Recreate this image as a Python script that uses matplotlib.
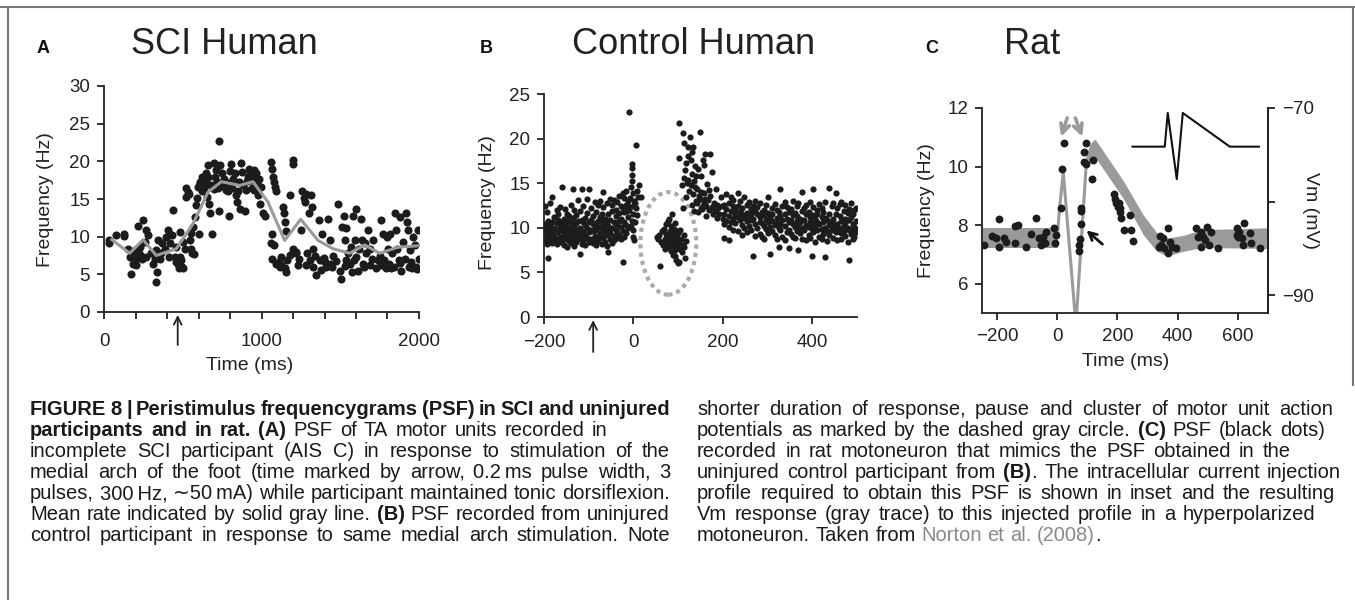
import matplotlib
matplotlib.use('Agg')
import matplotlib.pyplot as plt
from matplotlib.patches import Ellipse
from matplotlib.lines import Line2D

plt.rcParams['font.family'] = ['Liberation Sans', 'DejaVu Sans']
plt.rcParams['axes.unicode_minus'] = True

W, H = 1355, 600
DOT = '#1c1c1c'
GRAY = '#9a9a9a'
TICK_SIZE = 13.5
LABEL_SIZE = 14

# ---------------- panel A : SCI human ----------------
a_t = [32, 32, 78, 125, 125, 152, 169, 167, 180, 195,
       184, 205, 205, 216, 222, 237, 226, 248, 243, 269,
       258, 269, 279, 300, 311, 322, 332, 336, 328, 343,
       353, 364, 370, 385, 396, 406, 413, 421, 434, 438,
       449, 455, 459, 470, 476, 480, 491, 497, 501, 480,
       512, 501,
       518, 523, 533, 540, 544, 554, 561, 569, 575, 590,
       597, 607, 603, 612, 624, 628, 633, 645, 650, 654,
       660, 660, 667, 671, 681, 688, 696, 703, 709, 717,
       724, 730, 730, 734, 745, 751, 760, 766, 772, 787,
       794, 798, 808, 815, 830, 836, 844, 857, 861, 872,
       878, 893, 904, 914, 920, 929, 935, 942, 950, 963,
       967, 978, 971, 988, 999, 1009, 1020,
       640, 700, 740, 790, 820, 850, 880, 910, 945, 955,
       985, 620, 585, 565, 550,
       1062, 1069, 1073, 1077, 1084, 1090, 1069, 1062, 1077, 1069,
       1094, 1115, 1126, 1136, 1140, 1147, 1124, 1147, 1157, 1161,
       1153, 1178, 1199, 1203, 1203, 1217, 1221, 1232, 1253, 1259,
       1267, 1274, 1284, 1289, 1301, 1306, 1316, 1322, 1327, 1337,
       1348, 1365, 1373, 1386, 1380, 1401, 1412, 1422, 1433, 1437,
       1450, 1454, 1486, 1496, 1507, 1513, 1522, 1528, 1539, 1539,
       1549, 1560, 1570, 1577, 1583, 1591, 1598, 1602, 1613, 1619,
       1634, 1640, 1644, 1655, 1666, 1676, 1687, 1691, 1708, 1725,
       1740, 1750, 1761, 1771, 1775, 1788, 1797, 1803, 1809, 1818,
       1831, 1839, 1845, 1852, 1860, 1873, 1881, 1888, 1898, 1909,
       1919, 1924, 1930, 1936, 1945, 1957, 1962, 1972, 1979, 1993,
       1998,
       1110, 1180, 1240, 1280, 1330, 1395, 1470, 1530, 1590, 1650,
       1700, 1760, 1820, 1880, 1950, 1985]
a_f = [9.6, 9.2, 10.2, 10.4, 10.1, 8.3, 5.1, 7.3, 7.8, 8.2,
       6.4, 6.2, 7.1, 11.4, 7.8, 7.5, 8.6, 12.2, 7.1, 10.9,
       9.3, 7.3, 10.2, 7.8, 6.4, 7.1, 4.0, 5.3, 8.2, 9.5,
       7.1, 7.8, 9.2, 8.4, 10.0, 10.9, 7.3, 9.1, 10.2, 13.6,
       7.3, 6.6, 8.6, 6.4, 5.8, 7.3, 6.9, 6.0, 9.3, 10.6,
       8.4, 5.8,
       16.4, 15.3, 15.9, 15.7, 9.5, 8.4, 7.8, 7.7, 12.6, 15.1,
       16.6, 17.3, 10.4, 17.1, 17.9, 17.5, 16.4, 18.4, 17.3, 15.3,
       17.9, 19.5, 14.4, 13.1, 16.8, 10.4, 19.8, 17.9, 18.8, 17.3,
       16.4, 22.7, 13.4, 19.5, 16.8, 18.4, 17.7, 16.6, 16.2, 17.1,
       12.7, 18.7, 19.6, 16.4, 18.4, 15.5, 14.6, 17.3, 13.7, 19.8,
       18.6, 13.4, 16.2, 17.9, 19.0, 18.5, 17.5, 16.5, 18.8, 17.9,
       18.4, 15.5, 17.1, 14.3, 16.6, 13.1, 12.7,
       16.9, 16.3, 17.0, 16.0, 17.6, 16.1, 16.9, 17.4, 17.8, 16.2,
       17.6, 16.0, 14.2, 11.3, 10.5,
       19.9, 19.0, 17.9, 17.3, 16.6, 16.0, 10.4, 9.1, 8.9, 7.1,
       6.4, 6.0, 7.3, 14.0, 13.1, 12.0, 6.2, 5.8, 5.3, 6.9,
       10.8, 15.5, 20.2, 19.6, 8.4, 8.0, 7.8, 6.2, 10.9, 16.0,
       15.1, 14.6, 15.7, 7.8, 13.1, 6.9, 15.5, 14.0, 8.4, 7.4,
       4.9, 12.2, 6.9, 10.4, 5.6, 6.6, 6.0, 12.3, 9.5, 6.4,
       6.0, 7.5, 14.4, 5.5, 4.4, 11.3, 12.7, 9.5, 11.1, 6.9,
       7.8, 6.4, 8.6, 5.3, 12.8, 9.6, 13.7, 7.3, 5.5, 8.4,
       12.4, 9.5, 6.4, 9.1, 7.8, 10.9, 8.4, 6.2, 9.5, 5.8,
       6.9, 7.5, 12.2, 10.4, 6.9, 5.8, 10.0, 8.4, 6.4, 10.4,
       7.8, 6.0, 13.1, 10.9, 8.4, 6.9, 12.6, 5.5, 9.3, 7.1,
       13.1, 12.0, 10.9, 6.0, 8.2, 5.8, 10.0, 8.9, 6.0, 10.9,
       7.1,
       6.6, 7.6, 7.0, 6.3, 6.0, 7.2, 6.8, 6.1, 6.9, 6.0,
       7.1, 6.2, 5.9, 6.5, 6.6, 5.7]
a_mean_t = [50, 163, 248, 332, 459, 565, 660, 745, 861, 946,
            1041, 1147, 1249, 1359, 1454, 1560, 1655, 1750, 1866, 2000]
a_mean_f = [9.6, 7.8, 9.6, 7.5, 8.4, 11.7, 15.9, 17.3, 16.8, 17.3,
            14.6, 9.5, 12.3, 9.5, 8.4, 7.8, 8.9, 7.8, 8.6, 8.8]
a_stim = 468

# ---------------- panel B : control human ----------------
b_pre_t = [-198, -194, -190, -186, -181, -177, -172, -168, -164, -160,
           -156, -152, -148, -144, -140, -136, -132, -128, -124, -119,
           -116, -112, -108, -104, -99, -95, -91, -87, -83, -79,
           -75, -71, -67, -63, -59, -56, -52, -48, -44, -40,
           -36, -32, -28, -24, -20, -16, -12]
b_pre_f = [[8.6, 9.8, 10.4, 12.4], [9.2, 10.1, 11.8, 8.2], [6.6, 9.6, 10.8, 8.4],
           [9.9, 12.8, 8.9, 10.3], [13.5, 9.4, 8.3, 10.6], [10.0, 11.2, 8.5, 9.1],
           [9.7, 12.0, 8.2, 10.5], [10.9, 8.7, 9.5, 11.5], [8.4, 10.2, 12.3, 9.0],
           [14.6, 9.8, 8.6, 10.7], [9.3, 11.0, 8.1, 10.0], [10.4, 8.8, 12.1, 9.6],
           [9.0, 10.8, 7.9, 11.6], [11.3, 9.5, 8.5, 10.1], [8.3, 10.6, 12.6, 9.2],
           [14.4, 9.9, 8.7, 11.1], [10.2, 8.0, 9.4, 12.0], [9.1, 11.4, 8.4, 10.5],
           [13.1, 9.7, 10.8, 8.8], [7.1, 10.0, 11.9, 9.3], [14.4, 9.0, 10.9, 8.2],
           [10.6, 12.5, 8.6, 9.6], [9.2, 11.1, 8.1, 10.3], [13.2, 10.0, 8.9, 11.7],
           [14.3, 9.5, 10.7, 8.4], [10.9, 8.7, 12.2, 9.8], [9.6, 11.3, 8.3, 10.4],
           [12.9, 10.2, 8.8, 9.1], [10.5, 8.1, 11.8, 9.7], [9.0, 12.6, 10.8, 8.5],
           [11.2, 9.4, 13.0, 10.1], [8.2, 10.6, 9.3, 11.6], [14.0, 10.0, 8.9, 12.3],
           [9.5, 11.0, 8.4, 10.4], [10.8, 12.8, 9.2, 8.0], [7.3, 10.2, 11.5, 9.7],
           [13.2, 9.4, 10.9, 8.7], [10.0, 11.9, 8.3, 12.6], [9.1, 10.7, 13.1, 8.6],
           [11.3, 9.8, 12.0, 10.5], [8.9, 10.3, 12.9, 9.5], [13.6, 10.8, 9.2, 11.7],
           [10.1, 12.4, 8.8, 11.0], [6.2, 9.6, 12.2, 13.9], [10.7, 13.3, 9.0, 11.8],
           [12.6, 10.3, 14.1, 9.4], [11.2, 13.0, 10.0, 12.4]]
b_peak_t = [-11, -4, -4, -4, -4, -6, -2, -8, -1, -9, 0, -3, 0, 5, 7, 10, 13, 18,
            3, 6, 9, 4, -1, 2, -14, -6, 1]
b_peak_f = [23.0, 17.2, 16.7, 15.9, 15.2, 14.6, 13.9, 13.3, 12.5, 12.0, 11.5, 10.8,
            9.7, 19.3, 14.1, 13.5, 14.8, 13.4, 12.8, 12.2, 11.4, 10.6, 9.0, 8.6,
            11.9, 10.2, 13.0]
b_pause_t = [52, 55, 58, 60, 62, 64, 66, 68, 70, 70, 72, 73, 75, 76, 77, 78, 80, 80,
             82, 83, 84, 85, 86, 87, 88, 89, 90, 91, 92, 93, 94, 95, 96, 97, 98, 99,
             100, 101, 102, 104, 105, 106, 108, 110, 112, 114, 116, 118,
             78, 84, 86, 90, 92, 95, 88, 82, 98, 94]
b_pause_f = [9.0, 8.7, 9.2, 5.7, 8.4, 9.6, 8.1, 9.9, 8.8, 7.6, 10.4, 9.3, 8.5, 7.9,
             10.8, 9.0, 8.3, 11.0, 9.6, 7.4, 8.8, 10.2, 11.6, 8.0, 9.2, 7.0, 8.6, 9.9,
             6.8, 8.2, 10.5, 9.0, 6.4, 7.7, 8.9, 6.1, 9.4, 6.2, 8.3, 7.6, 9.8, 8.7,
             7.3, 8.1, 9.2, 7.8, 6.6, 8.5,
             8.6, 9.4, 8.3, 9.3, 8.0, 8.4, 8.9, 8.1, 9.6, 7.5]
b_burst_t = [101, 110, 127, 148, 112, 123, 134, 103, 123, 160, 172, 175, 157, 138,
             118, 128, 131, 114, 120, 108, 135, 142, 125, 150, 146, 152, 160, 155,
             140, 130, 118, 110, 165, 168, 172, 178, 180, 185, 145, 135, 162, 190,
             195, 200, 150, 170, 158, 188,
             115, 122, 128, 133, 137, 143, 148, 153, 157, 163, 167, 175, 182, 187,
             192, 198, 140, 145, 132, 155]
b_burst_f = [21.7, 20.6, 20.2, 20.7, 19.5, 19.1, 19.1, 17.8, 18.0, 18.3, 18.3, 16.3,
             17.0, 16.9, 17.3, 17.6, 16.0, 15.6, 15.0, 14.8, 15.2, 14.4, 14.1, 15.8,
             13.6, 14.0, 13.2, 12.5, 13.0, 12.6, 13.4, 12.2, 14.9, 12.0, 13.6, 11.6,
             12.8, 14.3, 11.8, 11.9, 11.3, 12.2, 13.5, 11.0, 12.2, 14.2, 12.9, 11.1,
             16.5, 15.4, 14.8, 13.8, 14.6, 12.8, 13.2, 12.1, 13.9, 12.4, 13.1, 12.3,
             11.9, 12.6, 11.5, 12.4, 15.8, 16.6, 18.5, 17.6]
b_post_t = [203, 208, 213, 218, 223, 228, 233, 238, 243, 248, 253, 258, 263, 267,
            272, 277, 282, 287, 292, 297, 302, 306, 311, 316, 320, 325, 328, 333,
            338, 343, 347, 352, 357, 362, 366, 369, 373, 377, 382, 387, 392, 396,
            399, 401, 406, 411, 416, 421, 425, 429, 434, 438, 443, 447, 452, 456,
            461, 465, 470, 474, 479, 481, 486, 490, 494, 497]
b_post_f = [[8.9, 11.5, 12.6, 10.4], [12.1, 10.8, 13.8], [8.6, 11.3, 12.8, 10.1],
            [11.9, 13.5, 10.6], [12.4, 11.0, 9.8, 13.1], [10.5, 12.0, 11.4],
            [13.9, 11.2, 9.6, 12.5], [10.9, 11.8, 13.0], [12.2, 10.3, 11.6, 9.2],
            [11.1, 13.4, 10.0], [12.6, 9.5, 11.7, 10.8], [11.3, 12.9, 10.2],
            [9.8, 12.1, 10.9, 11.5], [6.8, 11.0, 12.4], [10.4, 9.1, 11.9, 13.0],
            [11.6, 10.0, 12.3], [9.3, 12.8, 10.7, 11.2], [10.5, 11.8, 9.0],
            [12.0, 10.2, 11.4, 8.7], [9.9, 11.0, 12.6], [13.5, 10.6, 9.4, 11.7],
            [7.05, 10.1, 11.2], [12.2, 9.6, 10.8, 11.5], [10.3, 12.7, 9.2],
            [11.1, 8.8, 10.5, 12.0], [7.9, 10.0, 11.8], [14.4, 9.7, 11.3, 10.4],
            [12.5, 10.9, 9.0], [10.2, 11.6, 8.6, 12.9], [9.5, 11.0, 12.3],
            [7.7, 10.6, 11.8, 9.8], [12.1, 9.3, 10.9], [10.4, 13.0, 9.0, 11.4],
            [11.7, 8.9, 10.1], [9.6, 12.4, 10.8, 11.3], [7.5, 10.2, 12.8],
            [11.0, 9.4, 10.6], [14.0, 10.0, 11.9, 8.8], [9.7, 12.2, 10.9],
            [11.5, 8.6, 10.3, 12.6], [10.1, 9.2, 11.8], [12.9, 10.6, 8.9, 11.2],
            [6.8, 9.9, 10.5], [14.4, 11.4, 9.5, 12.3], [10.2, 8.4, 11.0],
            [12.0, 9.8, 10.7, 11.6], [9.0, 12.7, 10.4], [11.2, 8.7, 9.9, 12.2],
            [10.6, 11.8, 9.3], [6.7, 10.0, 12.9, 11.1], [9.6, 10.9, 8.5],
            [14.5, 11.5, 10.3, 9.2], [12.4, 9.8, 10.7], [11.0, 8.9, 12.8, 10.1],
            [13.9, 9.5, 11.6], [10.4, 12.2, 8.6, 9.9], [11.3, 10.0, 12.7],
            [9.4, 12.9, 10.8, 8.8], [11.9, 10.2, 9.6], [12.6, 9.1, 11.0, 10.5],
            [10.0, 11.7, 8.4], [6.4, 9.7, 12.1, 10.9], [11.2, 9.3, 12.8],
            [10.4, 8.7, 11.5, 9.9], [12.0, 10.1, 9.0], [9.5, 10.8, 12.2, 9.9]]
b_stim = -90

# ---------------- panel C : rat ----------------
c_t = [-243, -218, -193, -202, -193, -177, -169, -140, -129, -140,
       -104, -88, -71, -62, -54, -49, -36, -40, -10, -4,
       -7, 12, 16, 21, 79, 78, 78, 75, 73, 72,
       96, 90, 88, 96, 120, 116, 187, 193, 196, 201,
       207, 212, 223, 240, 246, 253, 204, 210, 340, 338,
       346, 353, 368, 373, 382, 368, 393, 351, 462, 468,
       479, 496, 479, 490, 512, 504, 534, 484, 596, 604,
       620, 612, 618, 601, 640, 642, 673, 596]
c_f = [7.32, 7.64, 8.22, 7.57, 7.27, 7.55, 7.44, 7.96, 8.02, 7.38,
       7.27, 7.71, 8.26, 7.57, 7.32, 7.6, 7.77, 7.38, 7.89, 7.66,
       7.4, 8.6, 9.93, 10.79, 8.6, 8.47, 8.04, 7.53, 7.32, 7.13,
       10.79, 10.49, 10.17, 10.08, 10.22, 9.57, 9.07, 8.9, 8.76, 8.62,
       8.45, 8.25, 7.83, 8.33, 7.85, 7.46, 8.74, 8.58, 7.64, 7.27,
       7.32, 7.23, 7.89, 7.44, 7.27, 7.04, 7.21, 7.55, 7.89, 7.6,
       7.77, 7.94, 7.27, 7.49, 7.77, 7.32, 7.21, 7.6, 7.89, 7.77,
       8.09, 7.55, 7.32, 7.6, 7.72, 7.38, 7.21, 7.66]
# Vm trace (mV, right axis): noisy band before and after, thin spike between
c_vm_pre_t = [-250, 3]
c_vm_pre_lo = [-85.0, -85.0]
c_vm_pre_hi = [-82.8, -82.8]
c_vm_spike_t = [0, 8, 20, 62, 97]
c_vm_spike_v = [-83.8, -80.6, -76.9, -93.2, -75.6]
c_vm_post_t = [95, 110, 125, 220, 285, 330, 365, 420, 480, 700]
c_vm_post_lo = [-76.6, -75.6, -75.2, -79.7, -83.5, -85.3, -85.8, -85.3, -84.9, -85.0]
c_vm_post_hi = [-75.0, -73.8, -73.3, -77.8, -81.4, -83.3, -83.9, -83.6, -83.0, -82.8]
# injected current profile (inset)
c_inset_t = [250, 357, 367, 397, 417, 573, 670]
c_inset_f = [10.68, 10.68, 11.83, 9.57, 11.83, 10.68, 10.68]

fig = plt.figure(figsize=(W / 100, H / 100), dpi=100)


def px(x, y):
    return x / W, 1 - y / H


def style_axis(ax):
    for s in ['top', 'right']:
        ax.spines[s].set_visible(False)
    for s in ['left', 'bottom', 'right']:
        ax.spines[s].set_color('#222222')
        ax.spines[s].set_linewidth(1.3)
    ax.tick_params(direction='out', length=5, width=1.3, colors='#222222',
                   labelsize=TICK_SIZE, labelcolor='#222222')


# ---- A
axA = fig.add_axes([104 / W, 1 - 312 / H, 315 / W, 226 / H])
style_axis(axA)
axA.scatter(a_t, a_f, s=34, color=DOT, zorder=3, linewidths=0)
axA.plot(a_mean_t, a_mean_f, color=GRAY, lw=2.2, zorder=4)
axA.set_xlim(0, 2000)
axA.set_ylim(0, 30)
axA.set_xticks(range(0, 2001, 200))
axA.set_xticklabels(['0', '', '', '', '', '1000', '', '', '', '', '2000'])
axA.set_yticks(range(0, 31, 5))
axA.tick_params(axis='x', pad=10)
axA.tick_params(axis='y', pad=5)
axA.annotate('', xy=(a_stim, -0.013), xycoords=('data', 'axes fraction'),
             xytext=(a_stim, -0.146), textcoords=('data', 'axes fraction'),
             arrowprops=dict(arrowstyle='->', lw=1.3, color='#222222',
                             mutation_scale=14, shrinkA=0, shrinkB=0))

# ---- B
axB = fig.add_axes([544 / W, 1 - 317 / H, 313 / W, 223 / H])
style_axis(axB)
bx, by = [], []
for t, fs in zip(b_pre_t, b_pre_f):
    for f in fs:
        bx.append(t)
        by.append(f)
for t, fs in zip(b_post_t, b_post_f):
    for f in fs:
        bx.append(t)
        by.append(f)
bx += b_peak_t + b_pause_t + b_burst_t
by += b_peak_f + b_pause_f + b_burst_f
axB.scatter(bx, by, s=20, color=DOT, zorder=3, linewidths=0)
axB.add_patch(Ellipse((78, 8.25), 125, 11.5, fill=False, ec='#aaaaaa', lw=3,
                      ls=(0, (1, 1)), zorder=2))
axB.set_xlim(-200, 500)
axB.set_ylim(0, 25)
axB.set_xticks([-200, 0, 200, 400])
axB.set_yticks(range(0, 26, 5))
axB.tick_params(axis='x', pad=7)
axB.tick_params(axis='y', pad=5)
axB.annotate('', xy=(b_stim, -0.014), xycoords=('data', 'axes fraction'),
             xytext=(b_stim, -0.157), textcoords=('data', 'axes fraction'),
             arrowprops=dict(arrowstyle='->', lw=1.3, color='#222222',
                             mutation_scale=14, shrinkA=0, shrinkB=0))

# ---- C
axC = fig.add_axes([982 / W, 1 - 313 / H, 286 / W, 205 / H])
style_axis(axC)
axC.spines['right'].set_visible(True)
axV = axC.twinx()
for s in ['top', 'left', 'bottom']:
    axV.spines[s].set_visible(False)
axV.spines['right'].set_color('#222222')
axV.spines['right'].set_linewidth(1.3)
axV.tick_params(direction='out', length=5, width=1.3, colors='#222222',
                labelsize=TICK_SIZE, pad=5)
axV.fill_between(c_vm_pre_t, c_vm_pre_lo, c_vm_pre_hi, color=GRAY, lw=0)
axV.fill_between(c_vm_post_t, c_vm_post_lo, c_vm_post_hi, color=GRAY, lw=0)
axV.plot(c_vm_spike_t, c_vm_spike_v, color=GRAY, lw=2.2)
axV.set_ylim(-91.9, -70)
axV.set_yticks([-90, -80, -70])
axV.set_yticklabels(['\u221290', '', '\u221270'])
axC.set_zorder(axV.get_zorder() + 1)
axC.patch.set_visible(False)
axC.scatter(c_t, c_f, s=32, color=DOT, zorder=3, linewidths=0)
axC.plot(c_inset_t, c_inset_f, color='#111111', lw=1.5)
axC.set_xlim(-250, 700)
axC.set_ylim(5, 12)
axC.set_xticks([-200, 0, 200, 400, 600])
axC.set_yticks([6, 8, 10, 12])
axC.tick_params(axis='x', pad=6)
axC.tick_params(axis='y', pad=5)
gray_arrow = dict(arrowstyle='->', lw=2.6, color=GRAY, mutation_scale=16,
                  shrinkA=0, shrinkB=0)
axC.annotate('', xy=(13, 11.02), xytext=(33, 11.66), arrowprops=gray_arrow)
axC.annotate('', xy=(83, 11.02), xytext=(60, 11.66), arrowprops=gray_arrow)
axC.annotate('', xy=(97, 7.82), xytext=(150, 7.35),
             arrowprops=dict(arrowstyle='->', lw=2, color='#111111',
                             mutation_scale=14, shrinkA=0, shrinkB=0))

# ---- titles, panel letters, axis labels
for x, txt in [(224, 'SCI Human'), (694, 'Control Human'), (1032, 'Rat')]:
    fig.text(*px(x, 54), txt, fontsize=26, ha='center', va='baseline', color='#222222')
for x, txt in [(37, 'A'), (480, 'B'), (925, 'C')]:
    fig.text(*px(x, 53), txt, fontsize=13, weight='bold', ha='left', va='baseline',
             color='#111111')
for x, y, rot, txt in [(45, 200, 90, 'Frequency (Hz)'), (488, 203, 90, 'Frequency (Hz)'),
                       (927, 211, 90, 'Frequency (Hz)'), (1311, 211, 270, 'Vm (mV)')]:
    fig.text(*px(x, y), txt, fontsize=LABEL_SIZE, rotation=rot, ha='center', va='center',
             color='#222222')
for x, y in [(250, 365), (1126, 362)]:
    fig.text(*px(x, y), 'Time (ms)', fontsize=LABEL_SIZE, ha='center', va='center',
             color='#222222')

# ---- frame
fig.add_artist(Line2D([0, 1], [1 - 7 / H] * 2, transform=fig.transFigure,
                      color='#777777', lw=1.5))
fig.add_artist(Line2D([8 / W] * 2, [0, 1 - 7 / H], transform=fig.transFigure,
                      color='#777777', lw=1.5))
fig.add_artist(Line2D([1353 / W] * 2, [1 - 385 / H, 1 - 7 / H], transform=fig.transFigure,
                      color='#777777', lw=1.5))

# ---- caption
cap_left = [
    "**FIGURE 8 | Peristimulus frequencygrams (PSF) in SCI and uninjured**",
    "**participants and in rat. (A)** PSF of TA motor units recorded in",
    "incomplete SCI participant (AIS C) in response to stimulation of the",
    "medial arch of the foot (time marked by arrow, 0.2\u2009ms pulse width, 3",
    "pulses, 300\u2009Hz, \u223c50\u2009mA) while participant maintained tonic dorsiflexion.",
    "Mean rate indicated by solid gray line. **(B)** PSF recorded from uninjured",
    "control participant in response to same medial arch stimulation. Note",
]
cap_right = [
    "shorter duration of response, pause and cluster of motor unit action",
    "potentials as marked by the dashed gray circle. **(C)** PSF (black dots)",
    "recorded in rat motoneuron that mimics the PSF obtained in the",
    "uninjured control participant from **(B)**. The intracellular current injection",
    "profile required to obtain this PSF is shown in inset and the resulting",
    "Vm response (gray trace) to this injected profile in a hyperpolarized",
    "motoneuron. Taken from ##Norton et al. (2008)##.",
]
left_ends = [670, 607, 670, 670, 670, 670, 670]
right_ends = [1333, 1325, 1291, 1341, 1335, 1315, None]

CAP_FAMILY = ['Liberation Sans Narrow', 'Liberation Sans', 'DejaVu Sans']
CAP_SIZE = 14.5
renderer = fig.canvas.get_renderer()


def measure(s, bold):
    t = fig.text(0, 0, s, fontsize=CAP_SIZE, family=CAP_FAMILY,
                 weight='bold' if bold else 'normal')
    w = t.get_window_extent(renderer).width
    t.remove()
    return w


space_w = measure('x x', False) - measure('xx', False)


def caption_line(x0, y, line, x1):
    chars = []
    bold = gray = False
    i = 0
    while i < len(line):
        if line.startswith('**', i):
            bold = not bold
            i += 2
            continue
        if line.startswith('##', i):
            gray = not gray
            i += 2
            continue
        chars.append((line[i], bold, gray))
        i += 1
    words, cur = [], []
    for c in chars:
        if c[0] == ' ':
            if cur:
                words.append(cur)
            cur = []
        else:
            cur.append(c)
    if cur:
        words.append(cur)
    pieces_list = []
    for w in words:
        pieces = []
        for ch, b, g in w:
            if pieces and pieces[-1][1] == b and pieces[-1][2] == g:
                pieces[-1][0] += ch
            else:
                pieces.append([ch, b, g])
        for p in pieces:
            p.append(measure(p[0], p[1]))
        pieces_list.append(pieces)
    widths = [sum(p[3] for p in pcs) for pcs in pieces_list]
    if x1 is None or len(widths) < 2:
        gap = space_w
    else:
        gap = max(space_w * 0.6, (x1 - x0 - sum(widths)) / (len(widths) - 1))
    x = x0
    for pcs, wd in zip(pieces_list, widths):
        xx = x
        for s, b, g, pw in pcs:
            fig.text(*px(xx, y), s, fontsize=CAP_SIZE, family=CAP_FAMILY,
                     weight='bold' if b else 'normal',
                     color='#8a8a8a' if g else '#1a1a1a', va='baseline')
            xx += pw
        x += wd + gap


for k, (ln, e) in enumerate(zip(cap_left, left_ends)):
    caption_line(30, 415 + 21 * k, ln, e)
for k, (ln, e) in enumerate(zip(cap_right, right_ends)):
    caption_line(697, 415 + 21 * k, ln, e)

fig.savefig('out.png', dpi=100)
